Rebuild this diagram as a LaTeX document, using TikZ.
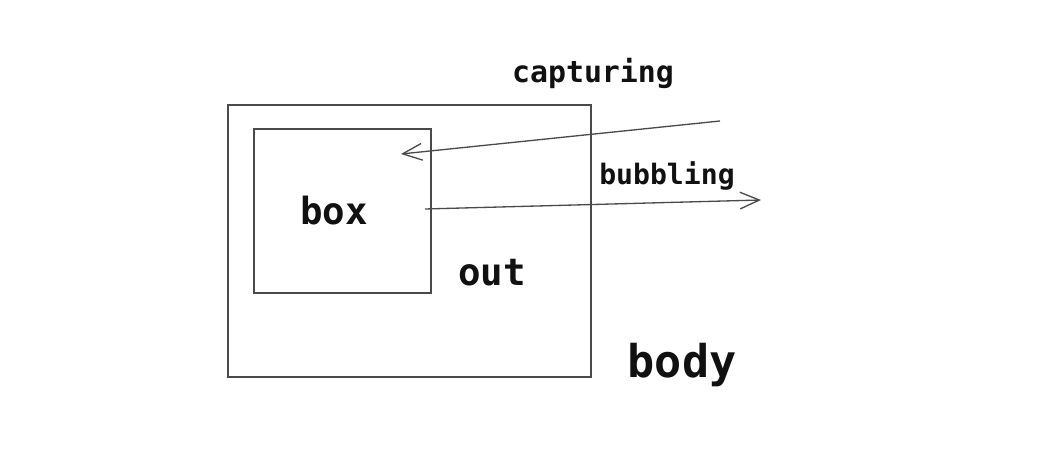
\documentclass[tikz,border=0pt]{standalone}
\usepackage{fontspec}
\setmonofont{DejaVu Sans Mono}
\usepackage{tikz}
\usetikzlibrary{arrows.meta}
\definecolor{ink}{HTML}{4A4A4A}
\definecolor{labeltext}{HTML}{111111}

\begin{document}
\begin{tikzpicture}[x=0.02cm, y=-0.02cm,
  frame/.style={draw=ink, line width=0.7pt},
  flow/.style={draw=ink, line width=0.75pt, -{Straight Barb[length=11pt, width=9.5pt]}},
  word/.style={anchor=center, text=labeltext, font=\ttfamily\bfseries}]
\useasboundingbox (0,0) rectangle (1052,462);
\draw[frame] (228,105) rectangle (591,377);
\draw[frame] (254,129) rectangle (431,293);
\node[word, font=\ttfamily\bfseries\fontsize{17}{19}\selectfont] (capturing) at (593,73) {capturing};
\node[word, font=\ttfamily\bfseries\fontsize{16}{18}\selectfont] (bubbling) at (667,176) {bubbling};
\node[word, font=\ttfamily\bfseries\fontsize{21.3}{25}\selectfont] (box) at (334,211) {box};
\node[word, font=\ttfamily\bfseries\fontsize{21.3}{25}\selectfont] (out) at (492,273) {out};
\node[word, font=\ttfamily\bfseries\fontsize{25.7}{30}\selectfont] (body) at (682,365) {body};
\coordinate (capstart) at (720,121);
\coordinate (capend) at (401,154);
\coordinate (bubstart) at (425,209);
\coordinate (bubend) at (761,200);
\draw[flow] (capstart) -- (capend);
\draw[flow] (bubstart) -- (bubend);
\end{tikzpicture}
\end{document}
